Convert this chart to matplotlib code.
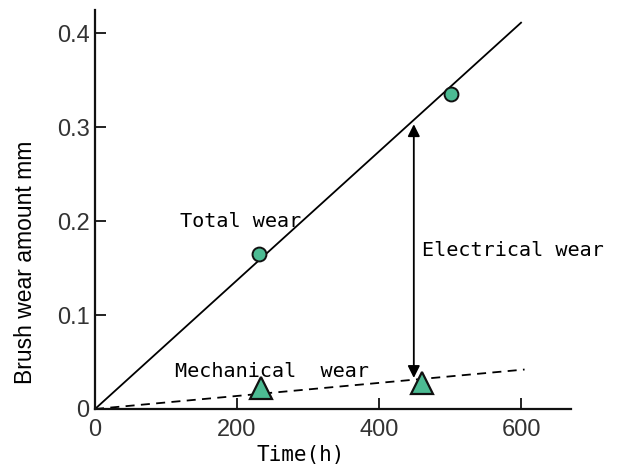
import numpy as np
import matplotlib.pyplot as plt

# measured points
time_total = [231, 502]
total_wear = [0.165, 0.335]
time_mech = [234, 460]
mech_wear = [0.022, 0.028]

# fitted lines (end points)
fit_time_total = [0, 600]
fit_total = [0.0, 0.411]
fit_time_mech = [0, 605]
fit_mech = [0.0, 0.042]

# electrical wear arrow
arrow_time = 449
arrow_top = 0.303
arrow_bottom = 0.033

xticks = [0, 200, 400, 600]
yticks = [0, 0.1, 0.2, 0.3, 0.4]
ytick_labels = ["0", "0.1", "0.2", "0.3", "0.4"]

green = "#4cbb93"
mono = ["DejaVu Sans Mono"]
sans = ["Liberation Sans", "DejaVu Sans"]

fig = plt.figure(figsize=(6.17, 4.70), dpi=100)
ax = fig.add_axes([0.154, 0.1298, 0.771, 0.8489])

ax.plot(fit_time_total, fit_total, color="black", lw=1.3, zorder=2)
ax.plot(fit_time_mech, fit_mech, color="black", lw=1.3, ls=(0, (5, 3.5)), zorder=2)

ax.plot(time_total, total_wear, "o", ms=10, mfc=green, mec="#111111", mew=1.4, zorder=3)
ax.plot(time_mech, mech_wear, "^", ms=16, mfc=green, mec="#111111", mew=1.6, zorder=3)

ax.annotate("", xy=(arrow_time, arrow_top), xytext=(arrow_time, arrow_bottom),
            arrowprops=dict(arrowstyle="<|-|>", color="black", lw=1.3,
                            mutation_scale=18, shrinkA=0, shrinkB=0), zorder=4)

ax.text(120, 0.200, "Total wear", family=mono, fontsize=14.5, va="center", ha="left")
ax.text(461, 0.169, "Electrical wear", family=mono, fontsize=14.5, va="center", ha="left")
ax.text(112, 0.040, "Mechanical  wear", family=mono, fontsize=14.5, va="center", ha="left")

ax.set_xlim(0, 670)
ax.set_ylim(0, 0.4245)
ax.set_xticks(xticks)
ax.set_yticks(yticks)
ax.set_yticklabels(ytick_labels)

for s in ["top", "right"]:
    ax.spines[s].set_visible(False)
for s in ["left", "bottom"]:
    ax.spines[s].set_linewidth(1.6)
    ax.spines[s].set_color("#111111")

ax.tick_params(direction="in", length=8, width=1.3, color="#111111")
ax.tick_params(axis="y", pad=4)
ax.tick_params(axis="x", pad=7)
for lab in ax.get_xticklabels() + ax.get_yticklabels():
    lab.set_family(sans)
    lab.set_fontsize(17)
    lab.set_color("#333333")

ax.set_xlabel("Time(h)", family=mono, fontsize=15, va="center")
ax.xaxis.set_label_coords(0.433, -0.115)
ax.set_ylabel("Brush wear amount mm", family=sans, fontsize=16.5, va="center")
ax.yaxis.set_label_coords(-0.147, 0.367)

fig.savefig("out.png", dpi=100)
